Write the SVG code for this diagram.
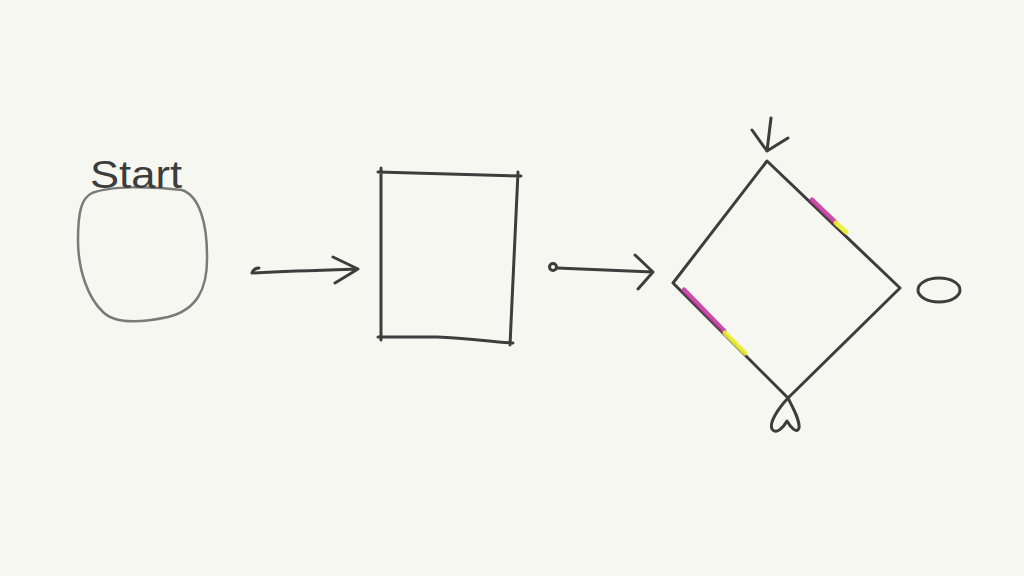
<svg xmlns="http://www.w3.org/2000/svg" width="1024" height="576" viewBox="0 0 1024 576">
<defs>
<style>
.ink{fill:none;stroke:#3d3d3d;stroke-width:3;stroke-linecap:round;stroke-linejoin:round}
.soft{fill:none;stroke:#7a7a7a;stroke-width:2.5;stroke-linecap:round;stroke-linejoin:round}
.mag{fill:none;stroke:#c0309a;stroke-width:5;stroke-linecap:round;opacity:0.85}
.yel{fill:none;stroke:#ecec30;stroke-width:5;stroke-linecap:round;opacity:0.9}
.lbl{font-family:"Liberation Sans",Arial,sans-serif;font-size:38px;fill:#3d3d3d}
</style>
</defs>
<rect width="1024" height="576" fill="#f7f7f2"/>
<g id="start">
<path class="soft" d="M92,193 C110,186 150,186 182,190 C200,196 207,225 207,255 C208,290 196,310 168,317 C140,323 115,324 103,312 C88,298 78,270 78,240 C78,210 82,198 92,193 Z"/>
<text class="lbl" x="90" y="188" textLength="92" lengthAdjust="spacingAndGlyphs">Start</text>
</g>
<g id="process">
<path class="ink" d="M378,172 L521,176 M381,168 L381,340 M518,172 L510,345 M378,337 L437,337 C470,338 490,342 513,343"/>
</g>
<g id="decision">
<path class="ink" d="M767,161 L900,288 L788,398 L673,283 Z"/>
<path class="mag" d="M812,200 L835,222"/>
<path class="yel" d="M836,223 L846,232"/>
<path class="mag" d="M684,290 L724,331"/>
<path class="yel" d="M725,333 L745,353"/>
<path class="ink" d="M788,398 C777,410 769,423 772,429 C776,435 783,428 787,421 C791,428 797,434 799,428 C800,420 793,408 788,398"/>
<ellipse class="ink" cx="939" cy="290" rx="21" ry="12"/>
</g>
<g id="connectors">
<path class="ink" d="M252,273 C290,271 325,270 358,269 M333,257 L358,269 L335,283 M252,273 C253,270 256,268 259,268"/>
<circle class="ink" cx="553" cy="267" r="3.5"/>
<path class="ink" d="M557,268 L653,272 M635,255 L653,272 L638,289"/>
<path class="ink" d="M771,118 L767,151 M752,130 L767,151 L788,138"/>
</g>
</svg>
